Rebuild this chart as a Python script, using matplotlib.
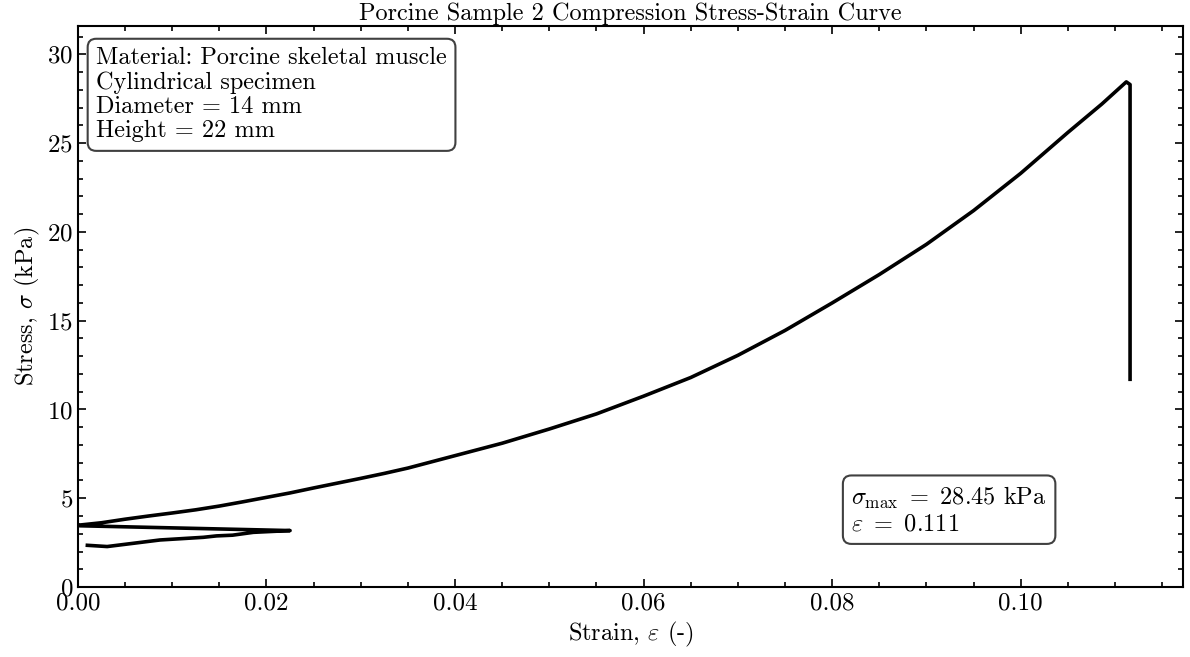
import matplotlib
matplotlib.use("Agg")
import matplotlib.pyplot as plt
from matplotlib.ticker import MultipleLocator, FormatStrFormatter

plt.rcParams['font.family'] = 'serif'
plt.rcParams['font.serif'] = ['cmr10']
plt.rcParams['mathtext.fontset'] = 'cm'
plt.rcParams['axes.formatter.use_mathtext'] = True
plt.rcParams['axes.unicode_minus'] = False

# Pre-load segment (platen settling before the loading ramp)
strain_pre = [0.0010, 0.0031, 0.0087, 0.0133, 0.0147, 0.0164, 0.0186, 0.0225, 0.0002]
stress_pre = [2.35, 2.28, 2.65, 2.80, 2.88, 2.92, 3.08, 3.18, 3.45]

# Loading curve up to failure, then the drop after the peak
strain_load = [0.0000, 0.0025, 0.0050, 0.0075, 0.0100, 0.0125, 0.0150, 0.0175,
               0.0200, 0.0225, 0.0250, 0.0275, 0.0300, 0.0325, 0.0350, 0.0375,
               0.0400, 0.0450, 0.0500, 0.0550, 0.0600, 0.0650, 0.0700, 0.0750,
               0.0800, 0.0850, 0.0900, 0.0950, 0.1000, 0.1050, 0.1086,
               0.1112, 0.1116, 0.1116]
stress_load = [3.48, 3.62, 3.82, 4.00, 4.17, 4.35, 4.56, 4.80,
               5.05, 5.30, 5.58, 5.85, 6.12, 6.40, 6.70, 7.05,
               7.40, 8.10, 8.90, 9.75, 10.75, 11.80, 13.05, 14.45,
               16.00, 17.60, 19.30, 21.20, 23.30, 25.60, 27.20,
               28.45, 28.30, 11.70]

sigma_max = 28.45
eps_at_max = 0.111

fig = plt.figure(figsize=(11.9, 6.57), dpi=100)
ax = fig.add_axes([0.0655, 0.1065, 0.9285, 0.854])

ax.plot(strain_pre + strain_load, stress_pre + stress_load, color='black', lw=2.6,
        solid_joinstyle='round')

ax.set_xlim(0, 0.1172)
ax.set_ylim(0, 31.6)
ax.xaxis.set_major_locator(MultipleLocator(0.02))
ax.xaxis.set_minor_locator(MultipleLocator(0.005))
ax.yaxis.set_major_locator(MultipleLocator(5))
ax.yaxis.set_minor_locator(MultipleLocator(1))
ax.xaxis.set_major_formatter(FormatStrFormatter('%.2f'))

ax.tick_params(which='both', direction='in', top=True, right=True, labelsize=18, width=1.2)
ax.tick_params(which='major', length=6)
ax.tick_params(which='minor', length=3.5)
for sp in ax.spines.values():
    sp.set_linewidth(1.5)

ax.set_title('Porcine Sample 2 Compression Stress-Strain Curve', fontsize=17.5, pad=4)
ax.set_xlabel(r'Strain, $\varepsilon$ (-)', fontsize=17.5)
ax.set_ylabel(r'Stress, $\sigma$ (kPa)', fontsize=17.5)

info = ('Material: Porcine skeletal muscle\nCylindrical specimen\n'
        'Diameter = 14 mm\nHeight = 22 mm')
ax.text(0.0165, 0.962, info, transform=ax.transAxes, va='top', ha='left', fontsize=17.5,
        linespacing=1.12,
        bbox=dict(boxstyle='round,pad=0.35', fc='white', ec='0.25', lw=1.5))

peak_txt = (r'$\sigma_{\mathrm{max}}\ =\ %.2f$ kPa' % sigma_max + '\n'
            + r'$\varepsilon\ =\ %.3f$' % eps_at_max)
ax.text(0.7, 0.092, peak_txt, transform=ax.transAxes, va='bottom', ha='left', fontsize=17.5,
        linespacing=1.12,
        bbox=dict(boxstyle='round,pad=0.35', fc='white', ec='0.25', lw=1.5))

fig.savefig('out.png', dpi=100)
